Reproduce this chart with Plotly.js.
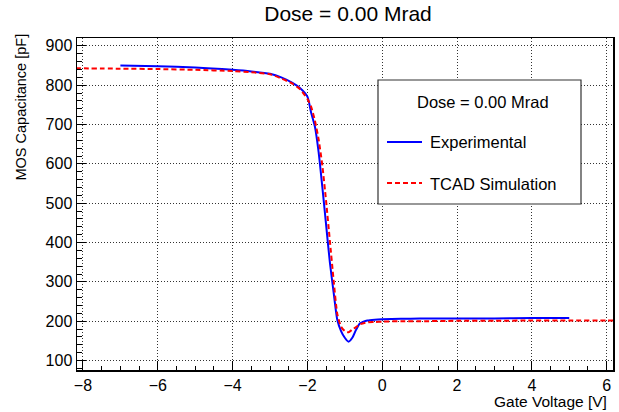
<!DOCTYPE html>
<html>
<head>
<meta charset="utf-8">
<script src="https://cdn.plot.ly/plotly-3.0.1.min.js"></script>
<style>
html,body{margin:0;padding:0;background:#fff;}
#chart{width:619px;height:412px;}
</style>
</head>
<body>
<div id="chart"></div>
<script>
// Experimental C-V curve
const expVoltage = [-7, -6, -5, -4, -3.5, -3, -2.7, -2.4, -2.2, -2.0, -1.9, -1.8, -1.7, -1.6, -1.5, -1.4, -1.3, -1.2, -1.1, -1.0, -0.9, -0.8, -0.7, -0.6, -0.5, -0.4, -0.2, 0, 0.5, 1, 2, 3, 4, 5];
const expCap = [850, 848, 845, 839, 835, 829, 820, 806, 793, 771, 730, 695, 630, 540, 445, 350, 274, 203, 175, 158, 148, 158, 178, 194, 199, 202, 204, 205, 206, 207, 207, 207, 208, 208];
// TCAD simulation C-V curve
const simVoltage = [-8.2, -7, -6, -5, -4, -3.5, -3, -2.7, -2.4, -2.2, -2.0, -1.9, -1.8, -1.7, -1.6, -1.5, -1.4, -1.3, -1.2, -1.1, -1.0, -0.9, -0.8, -0.7, -0.6, -0.4, -0.2, 0, 0.5, 1, 2, 3, 4, 5, 6, 6.2];
const simCap = [843, 842, 841, 839, 836, 833, 828, 817, 804, 790, 765, 745, 710, 662, 595, 505, 405, 305, 218, 186, 175, 172, 179, 185, 192, 197, 198, 199, 200, 200, 201, 201, 202, 202, 202, 202];

const chartTitle = "Dose = 0.00 Mrad";
const legendTitle = "Dose = 0.00 Mrad";
const seriesNames = ["Experimental", "TCAD Simulation"];
const xTitle = "Gate Voltage [V]";
const yTitle = "MOS Capacitance [pF]";
const xTicks = [-8, -6, -4, -2, 0, 2, 4, 6];
const yTicks = [100, 200, 300, 400, 500, 600, 700, 800, 900];

const FONT = '"Liberation Sans", Arial, Helvetica, sans-serif';

const traces = [
  {x: expVoltage, y: expCap, type: 'scatter', mode: 'lines', name: seriesNames[0],
   line: {color: '#0000ff', width: 2, shape: 'spline', smoothing: 0.6}, showlegend: false},
  {x: simVoltage, y: simCap, type: 'scatter', mode: 'lines', name: seriesNames[1],
   line: {color: '#ff0000', width: 2, dash: '5px,3px', shape: 'spline', smoothing: 0.6}, showlegend: false}
];

// pixel helpers for the plot area (paper coordinates)
const L = 77, R = 613, T = 38, B = 370;
const px = p => (p - L) / (R - L);
const py = p => (B - p) / (B - T);

const axisCommon = {
  showline: true, mirror: true, linecolor: '#000', linewidth: 1.5,
  ticks: 'inside', tickcolor: '#000', tickwidth: 1,
  showgrid: true, gridcolor: '#333', gridwidth: 1, griddash: '1px,2px',
  zeroline: false,
  tickfont: {family: FONT, size: 16, color: '#000'}
};

const layout = {
  width: 619, height: 412,
  margin: {l: L, r: 619 - R, t: T, b: 412 - B},
  paper_bgcolor: '#fff', plot_bgcolor: '#fff',
  font: {family: FONT, color: '#000'},
  title: {text: chartTitle, x: 348/619, xanchor: 'center', y: 1 - 14/412, yanchor: 'middle',
          xref: 'container', yref: 'container', font: {family: FONT, size: 21, color: '#000'}},
  showlegend: false,
  xaxis: Object.assign({}, axisCommon, {
    range: [-8.16, 6.17], tickvals: xTicks, ticklen: 9, ticklabelstandoff: 0,
    minor: {dtick: 0.5, tick0: 0, ticks: 'inside', ticklen: 4.5, tickcolor: '#000', showgrid: false}
  }),
  yaxis: Object.assign({}, axisCommon, {
    range: [76, 920], tickvals: yTicks, ticklen: 9,
    minor: {dtick: 20, tick0: 0, ticks: 'inside', ticklen: 4.5, tickcolor: '#000', showgrid: false}
  }),
  shapes: [
    {type: 'rect', xref: 'paper', yref: 'paper', x0: px(378), x1: px(581), y0: py(204), y1: py(80),
     line: {color: '#333', width: 1.2}, fillcolor: '#fff', layer: 'above'},
    {type: 'line', xref: 'paper', yref: 'paper', x0: px(387), x1: px(422), y0: py(142), y1: py(142),
     line: {color: '#0000ff', width: 2}, layer: 'above'},
    {type: 'line', xref: 'paper', yref: 'paper', x0: px(387), x1: px(422), y0: py(183), y1: py(183),
     line: {color: '#ff0000', width: 2, dash: '5px,3px'}, layer: 'above'}
  ],
  annotations: [
    {text: legendTitle, xref: 'paper', yref: 'paper', x: px(483), y: py(102), xanchor: 'center', yanchor: 'middle',
     showarrow: false, font: {family: FONT, size: 16.5, color: '#000'}},
    {text: seriesNames[0], xref: 'paper', yref: 'paper', x: px(428), y: py(142), xanchor: 'left', yanchor: 'middle',
     showarrow: false, font: {family: FONT, size: 16.5, color: '#000'}},
    {text: seriesNames[1], xref: 'paper', yref: 'paper', x: px(428), y: py(184), xanchor: 'left', yanchor: 'middle',
     showarrow: false, font: {family: FONT, size: 16.5, color: '#000'}},
    {text: xTitle, xref: 'paper', yref: 'paper', x: px(609), y: py(401), xanchor: 'right', yanchor: 'middle',
     showarrow: false, font: {family: FONT, size: 15.5, color: '#000'}},
    {text: yTitle, xref: 'paper', yref: 'paper', x: px(20), y: py(32), xanchor: 'center', yanchor: 'top',
     textangle: -90, showarrow: false, font: {family: FONT, size: 14.5, color: '#000'}}
  ]
};

Plotly.newPlot('chart', traces, layout, {staticPlot: true, displayModeBar: false});
</script>
</body>
</html>
